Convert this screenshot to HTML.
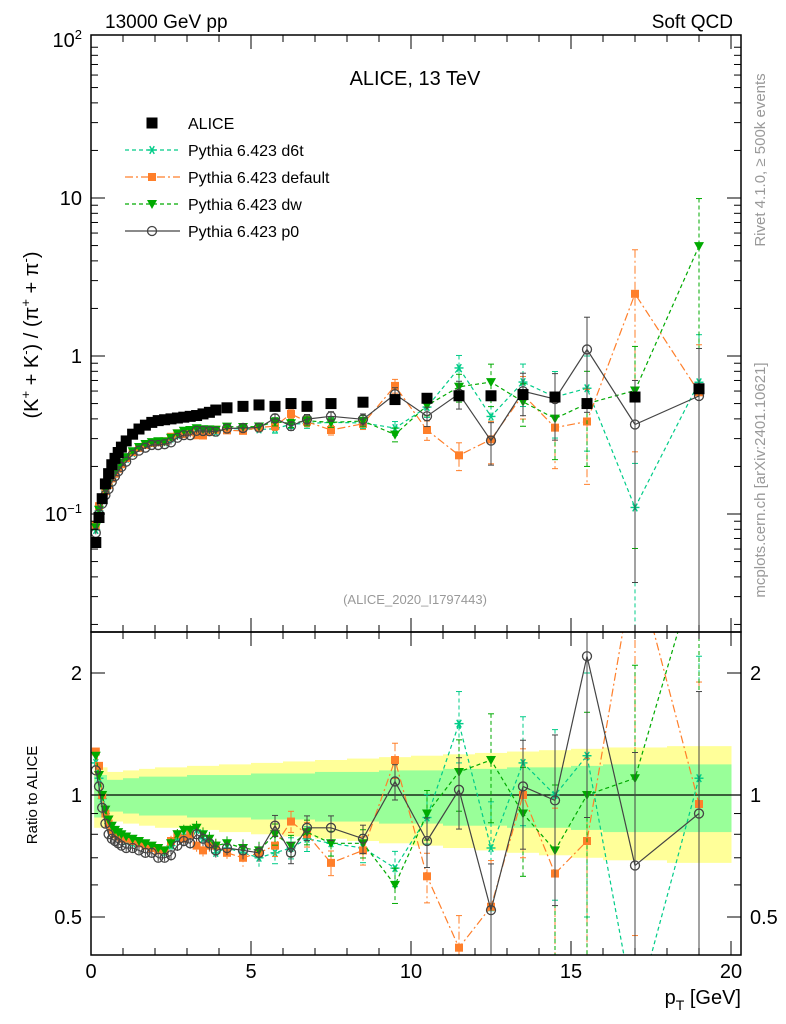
<!DOCTYPE html>
<html><head><meta charset="utf-8"><style>
html,body{margin:0;padding:0;background:#fff;width:786px;height:1024px;overflow:hidden}
svg{display:block;font-family:"Liberation Sans",sans-serif}
</style></head><body>
<svg id="c" width="786" height="1024" xmlns="http://www.w3.org/2000/svg">
<defs>
<clipPath id="cm"><rect x="91" y="35" width="650" height="597"/></clipPath>
<clipPath id="cr"><rect x="91" y="632" width="650" height="323"/></clipPath>
</defs>
<g id="bands" clip-path="url(#cr)"></g>
<g id="marks"></g>
<rect x="91" y="35" width="650" height="597" fill="none" stroke="#000" stroke-width="1.5"/>
<rect x="91" y="632" width="650" height="323" fill="none" stroke="#000" stroke-width="1.5"/>
<g id="ticks"></g>
<text x="105" y="28" font-size="19">13000 GeV pp</text>
<text x="733" y="28" font-size="19" text-anchor="end">Soft QCD</text>
<text x="415" y="85" font-size="20" text-anchor="middle">ALICE, 13 TeV</text>
<text x="415" y="604" font-size="13" fill="#999" text-anchor="middle">(ALICE_2020_I1797443)</text>
<text transform="translate(38,335) rotate(-90)" font-size="20" text-anchor="middle">(K<tspan dy="-8" font-size="13">+</tspan><tspan dy="8"> + K</tspan><tspan dy="-8" font-size="13">-</tspan><tspan dy="8">) / (π</tspan><tspan dy="-8" font-size="13">+</tspan><tspan dy="8"> + π</tspan><tspan dy="-8" font-size="13">-</tspan><tspan dy="8">)</tspan></text>
<text transform="translate(37,795) rotate(-90)" font-size="15" text-anchor="middle">Ratio to ALICE</text>
<text x="741" y="1004" font-size="20" text-anchor="end">p<tspan dy="6" font-size="14">T</tspan><tspan dy="-6"> [GeV]</tspan></text>
<text transform="translate(765,160) rotate(-90)" font-size="15" fill="#999" text-anchor="middle">Rivet 4.1.0, ≥ 500k events</text>
<text transform="translate(765,480) rotate(-90)" font-size="15" fill="#999" text-anchor="middle">mcplots.cern.ch [arXiv:2401.10621]</text>
<g id="legend"></g>
</svg>
<script>
const pT=[0.15,0.25,0.35,0.45,0.55,0.65,0.75,0.85,0.95,1.1,1.3,1.5,1.7,1.9,2.1,2.3,2.5,2.7,2.9,3.1,3.3,3.5,3.7,3.9,4.25,4.75,5.25,5.75,6.25,6.75,7.5,8.5,9.5,10.5,11.5,12.5,13.5,14.5,15.5,17,19];
const alice=[0.066,0.095,0.125,0.155,0.18,0.205,0.225,0.245,0.265,0.29,0.32,0.345,0.365,0.38,0.39,0.395,0.40,0.405,0.41,0.415,0.42,0.43,0.44,0.455,0.47,0.48,0.49,0.48,0.50,0.48,0.50,0.51,0.53,0.54,0.56,0.56,0.57,0.55,0.50,0.55,0.62];
const rP0=[1.15,1.05,0.93,0.85,0.80,0.78,0.77,0.76,0.75,0.74,0.74,0.73,0.72,0.72,0.70,0.70,0.71,0.75,0.77,0.76,0.80,0.78,0.76,0.73,0.74,0.73,0.72,0.84,0.72,0.83,0.83,0.78,1.08,0.77,1.03,0.52,1.05,0.97,2.2,0.67,0.90];
const rDef=[1.28,1.18,1.0,0.90,0.85,0.82,0.80,0.79,0.78,0.78,0.77,0.76,0.75,0.74,0.73,0.73,0.77,0.80,0.78,0.80,0.75,0.73,0.75,0.75,0.72,0.70,0.72,0.75,0.86,0.80,0.68,0.73,1.22,0.63,0.42,0.53,1.0,0.64,0.77,4.5,0.95];
const rDw=[1.25,1.12,1.0,0.92,0.87,0.84,0.82,0.81,0.80,0.79,0.78,0.77,0.76,0.75,0.74,0.73,0.76,0.80,0.82,0.82,0.83,0.80,0.78,0.75,0.76,0.74,0.73,0.80,0.75,0.81,0.76,0.76,0.60,0.90,1.14,1.22,0.90,0.73,1.0,1.1,8.0];
const rD6t=[1.2,1.1,0.98,0.9,0.85,0.82,0.80,0.79,0.78,0.77,0.76,0.76,0.75,0.74,0.73,0.72,0.75,0.78,0.80,0.80,0.82,0.78,0.77,0.72,0.74,0.72,0.70,0.72,0.74,0.78,0.76,0.74,0.66,0.88,1.5,0.74,1.2,1.0,1.25,0.2,1.1];
const relErr=[0.02,0.02,0.02,0.02,0.02,0.02,0.02,0.02,0.02,0.02,0.02,0.02,0.02,0.02,0.02,0.02,0.03,0.03,0.03,0.03,0.04,0.04,0.04,0.04,0.04,0.05,0.05,0.06,0.06,0.07,0.07,0.08,0.1,0.14,0.2,0.3,0.3,0.45,0.6,0.9,1.0];
const bandEdges=[0.1,0.5,1,1.5,2,3,4,5,6,7,8,9,10,11,12,13,14,15,16,18,20];
const band1=[0.12,0.09,0.10,0.11,0.11,0.12,0.12,0.13,0.13,0.14,0.14,0.15,0.15,0.16,0.16,0.17,0.17,0.18,0.19,0.19];
const band2=[0.17,0.14,0.15,0.16,0.17,0.18,0.19,0.20,0.21,0.22,0.23,0.24,0.25,0.26,0.27,0.28,0.29,0.30,0.31,0.32];
const mainTicks=["10<tspan dy='-8' font-size='13'>2</tspan>","10","1","10<tspan dy='-8' font-size='13'>−1</tspan>"];
const xTicks=[0,5,10,15,20];
const NS="http://www.w3.org/2000/svg";
const clamp=(v,a,b)=>Math.max(a,Math.min(b,v));
const X=v=>91+32*v;
const YM=v=>clamp(356-158*Math.log10(v),20,700);
const YR=v=>clamp(795-122*Math.log2(v),560,1015);
function el(t,a,p){const e=document.createElementNS(NS,t);for(const k in a)e.setAttribute(k,a[k]);p.appendChild(e);return e;}
const bands=document.getElementById('bands');
for(let i=0;i<band2.length;i++){
  const x1=X(bandEdges[i]),x2=X(bandEdges[i+1]);
  const y=el('rect',{x:x1,y:YR(1+band2[i]),width:x2-x1+0.5,height:YR(1-band2[i])-YR(1+band2[i]),fill:'#ffff99'},bands);
  
  
  const g=el('rect',{x:x1,y:YR(1+band1[i]),width:x2-x1+0.5,height:YR(1-band1[i])-YR(1+band1[i]),fill:'#99ff99'},bands);
  
  
}
const one=el('line',{x1:91,x2:741,y1:795,y2:795,stroke:'#000','stroke-width':1.2},bands);


const marks=document.getElementById('marks');
const gm=el('g',{'clip-path':'url(#cm)'},marks);
const gr=el('g',{'clip-path':'url(#cr)'},marks);
function marker(type,col,x,y,p){
  if(type==='sq'){el('rect',{x:x-4,y:y-4,width:8,height:8,fill:col},p);}
  else if(type==='bsq'){el('rect',{x:x-5.5,y:y-5.5,width:11,height:11,fill:col},p);}
  else if(type==='tri'){el('polygon',{points:`${x-5},${y-4} ${x+5},${y-4} ${x},${y+5}`,fill:col},p);}
  else if(type==='circ'){el('circle',{cx:x,cy:y,r:4.5,fill:'none',stroke:col,'stroke-width':1.3},p);}
  else if(type==='star'){for(const a of [0,60,120]){const r=a*Math.PI/180;el('line',{x1:x-4.5*Math.cos(r),y1:y-4.5*Math.sin(r),x2:x+4.5*Math.cos(r),y2:y+4.5*Math.sin(r),stroke:col,'stroke-width':1.4},p);}}
}
const series=[
 {name:'d6t',r:rD6t,col:'#00cc88',m:'star',dash:'4,3'},
 {name:'default',r:rDef,col:'#ff7f2a',m:'sq',dash:'8,3,2,3'},
 {name:'dw',r:rDw,col:'#00aa00',m:'tri',dash:'4,3'},
 {name:'p0',r:rP0,col:'#444444',m:'circ',dash:''}
];
for(const s of series){
  for(const [g,Y,isR] of [[gm,YM,false],[gr,YR,true]]){
    const grp=el('g',{},g);
    
    
    const vals=pT.map((p,i)=>isR?s.r[i]:s.r[i]*alice[i]);
    const pts=pT.map((p,i)=>X(p)+','+Y(vals[i]).toFixed(1)).join(' ');
    const a={points:pts,fill:'none',stroke:s.col,'stroke-width':1.2};
    if(s.dash)a['stroke-dasharray']=s.dash;
    el('polyline',a,grp);
    pT.forEach((p,i)=>{
      const v=vals[i],e=relErr[i]*v;
      const lo=Math.max(v-e,1e-3);
      el('line',{x1:X(p),x2:X(p),y1:Y(v+e),y2:Y(lo),stroke:s.col,'stroke-width':1,'stroke-dasharray':s.dash||'none'},grp);
      if(relErr[i]>0.05){el('line',{x1:X(p)-3,x2:X(p)+3,y1:Y(v+e),y2:Y(v+e),stroke:s.col},grp);el('line',{x1:X(p)-3,x2:X(p)+3,y1:Y(lo),y2:Y(lo),stroke:s.col},grp);}
      marker(s.m,s.col,X(p),Y(v),grp);
    });
  }
}
const ga=el('g',{},gm);


pT.forEach((p,i)=>marker('bsq','#000',X(p),YM(alice[i]),ga));
const ticks=document.getElementById('ticks');
for(const d of [-2,-1,0,1]){for(let k=1;k<10;k++){const v=k*Math.pow(10,d);const y=356-158*Math.log10(v);if(y<35||y>632)continue;const L=k===1?14:7;
 el('line',{x1:91,x2:91+L,y1:y,y2:y,stroke:'#000'},ticks);el('line',{x1:741,x2:741-L,y1:y,y2:y,stroke:'#000'},ticks);}}
mainTicks.forEach((t,i)=>{const y=YM(Math.pow(10,2-i));const tx=el('text',{x:82,y:y+7,'font-size':20,'text-anchor':'end'},ticks);tx.innerHTML=t;
 
 });
for(const v of [0.5,0.6,0.7,0.8,0.9,1,2]){const y=YR(v);const L=(v===1||v===2||v===0.5)?14:7;
 el('line',{x1:91,x2:91+L,y1:y,y2:y,stroke:'#000'},ticks);el('line',{x1:741,x2:741-L,y1:y,y2:y,stroke:'#000'},ticks);}
for(const [v,t] of [[2,'2'],[1,'1'],[0.5,'0.5']]){
 const a=el('text',{x:82,y:YR(v)+7,'font-size':20,'text-anchor':'end'},ticks);a.textContent=t;
 
 
 const b=el('text',{x:750,y:YR(v)+7,'font-size':20},ticks);b.textContent=t;
 
 }
for(let v=0;v<=20;v++){const x=X(v);const L=v%5===0?14:7;
 for(const [yt,yb] of [[35,632],[632,955]]){el('line',{x1:x,x2:x,y1:yb,y2:yb-L,stroke:'#000'},ticks);el('line',{x1:x,x2:x,y1:yt,y2:yt+L,stroke:'#000'},ticks);}}
xTicks.forEach(v=>{const t=el('text',{x:X(v),y:978,'font-size':20,'text-anchor':'middle'},ticks);t.textContent=v;
 
 });
const lg=document.getElementById('legend');
const entries=[['ALICE','#000','bsq',''],['Pythia 6.423 d6t','#00cc88','star','4,3'],['Pythia 6.423 default','#ff7f2a','sq','8,3,2,3'],['Pythia 6.423 dw','#00aa00','tri','4,3'],['Pythia 6.423 p0','#444444','circ','']];
entries.forEach((e,i)=>{const y=123+27*i;const g=el('g',{},lg);
 
 
 if(i>0){const a={x1:125,x2:180,y1:y,y2:y,stroke:e[1],'stroke-width':1.2};if(e[3])a['stroke-dasharray']=e[3];el('line',a,g);}
 marker(e[2],e[1],152,y,g);
 const t=el('text',{x:188,y:y+6,'font-size':16},g);t.textContent=e[0];});
</script>
</body></html>
